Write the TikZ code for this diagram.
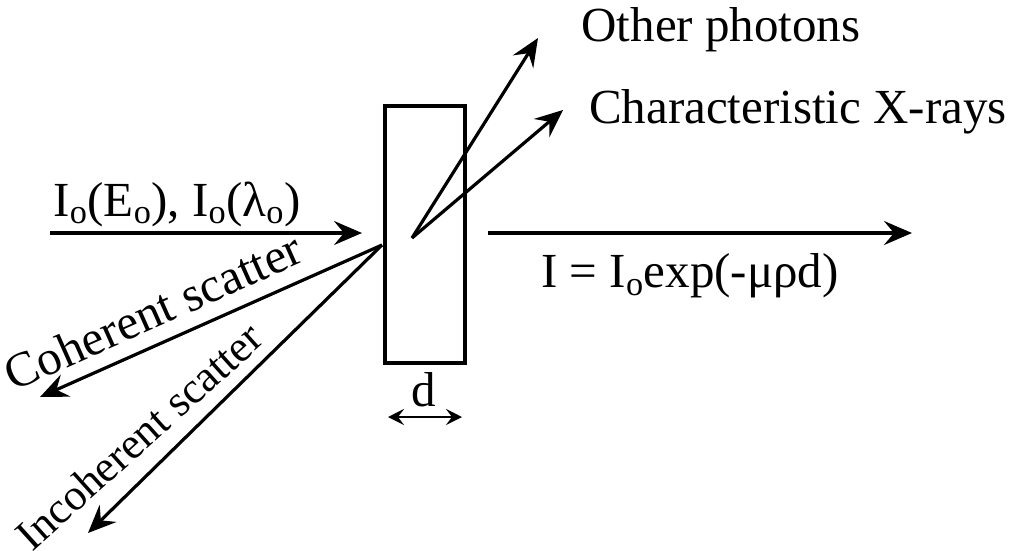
\documentclass[tikz,border=0pt]{standalone}
\usepackage{fontspec}
\setmainfont{Liberation Serif}
\usetikzlibrary{arrows.meta}
\begin{document}
\begin{tikzpicture}[x=1pt,y=-1pt,
  ray/.style={line width=3.2pt, -{Stealth[length=28pt,width=24pt,inset=10pt]}},
  lbl/.style={font=\fontsize{49}{58}\selectfont, inner sep=0pt}]
\useasboundingbox (0,0) rectangle (1021,550);
% slab
\node[draw, line width=3.2pt, minimum width=80pt, minimum height=257pt, inner sep=0pt] (slab) at (425,234.5) {};
% coordinates
\coordinate (inS) at (50,233);
\coordinate (inT) at (362,233);
\coordinate (outS) at (488,233);
\coordinate (outT) at (912,233);
\coordinate (src) at (412,238);
\coordinate (opT) at (538,38);
\coordinate (cxT) at (563,110);
\coordinate (hit) at (382,245);
\coordinate (cohT) at (40,397);
\coordinate (incT) at (88,533);
\coordinate (dL) at (388,417);
\coordinate (dR) at (462,417);
% arrows
\draw[ray] (inS) -- (inT);
\draw[ray] (outS) -- (outT);
\draw[ray] (src) -- (opT);
\draw[ray] (src) -- (cxT);
\draw[ray] (hit) -- (cohT);
\draw[ray] (hit) -- (incT);
\draw[line width=2.6pt, {Stealth[length=16pt,width=16pt,inset=6pt]}-{Stealth[length=16pt,width=16pt,inset=6pt]}] (dL) -- (dR);
% labels
\node[lbl] (lin) at (177,204) {I\textsubscript{o}(E\textsubscript{o}), I\textsubscript{o}(λ\textsubscript{o})};
\node[lbl] (lout) at (690,276) {I = I\textsubscript{o}exp(-μρd)};
\node[lbl] (lop) at (721,30) {Other photons};
\node[lbl] (lcx) at (798,112) {Characteristic X-rays};
\node[lbl] (ld) at (424,390) {d};
\node[lbl, rotate=24] (lcoh) at (153,311) {Coherent scatter};
\node[lbl, font=\fontsize{44}{52}\selectfont, rotate=42] (linc) at (139,436) {Incoherent scatter};
\end{tikzpicture}
\end{document}
